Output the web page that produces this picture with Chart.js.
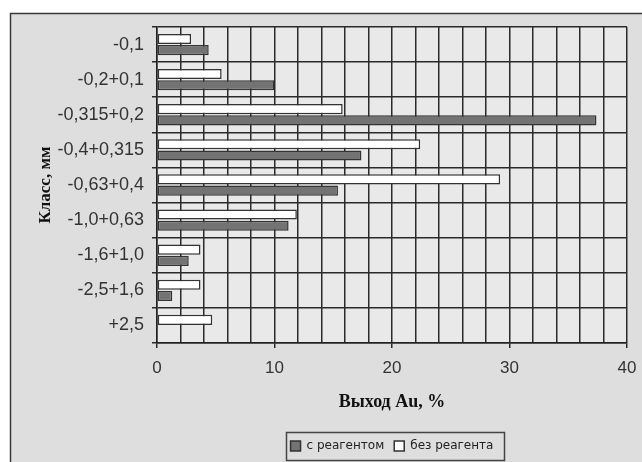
<!DOCTYPE html>
<html>
<head>
  <meta charset="utf-8">
  <title>Выход Au по классам крупности</title>
  <script src="https://cdn.jsdelivr.net/npm/chart.js"></script>
  <style>
    body {
      margin: 0;
      background-color: #fff;
    }
    .chart-box {
      position: absolute;
      left: 0;
      top: 0;
      width: 642px;
      height: 462px;
    }
  </style>
</head>
<body>
  <div class="chart-box">
    <canvas id="auChart" width="642" height="462"></canvas>
  </div>

  <script>
    const classes = ['-0,1', '-0,2+0,1', '-0,315+0,2', '-0,4+0,315', '-0,63+0,4',
                     '-1,0+0,63', '-1,6+1,0', '-2,5+1,6', '+2,5'];
    const withReagent = [4.4, 10.0, 37.4, 17.4, 15.4, 11.2, 2.7, 1.3, 0];
    const withoutReagent = [2.9, 5.5, 15.8, 22.4, 29.2, 11.9, 3.7, 3.7, 4.7];
    const xTicksShown = [0, 10, 20, 30, 40];

    // рамка и фон всей диаграммы + фон области построения
    const backgroundPlugin = {
      id: 'backgrounds',
      beforeDraw(chart) {
        const ctx = chart.ctx;
        const area = chart.chartArea;
        ctx.save();
        ctx.fillStyle = '#ffffff';
        ctx.fillRect(0, 0, chart.width, chart.height);
        ctx.fillStyle = '#dedede';
        ctx.fillRect(10, 13, chart.width - 10, chart.height - 13);
        ctx.strokeStyle = '#3a3a3a';
        ctx.lineWidth = 1.5;
        ctx.beginPath();
        ctx.moveTo(10.5, chart.height);
        ctx.lineTo(10.5, 13.5);
        ctx.lineTo(chart.width, 13.5);
        ctx.stroke();
        ctx.fillStyle = '#e9e9e9';
        ctx.fillRect(area.left, area.top, area.right - area.left, area.bottom - area.top);
        ctx.restore();
      }
    };

    // рамка вокруг легенды
    const legendFramePlugin = {
      id: 'legendFrame',
      afterDraw(chart) {
        const boxes = chart.legend.legendHitBoxes;
        if (!boxes || !boxes.length) return;
        let left = Infinity, right = -Infinity, top = Infinity, bottom = -Infinity;
        boxes.forEach(b => {
          left = Math.min(left, b.left);
          right = Math.max(right, b.left + b.width);
          top = Math.min(top, b.top);
          bottom = Math.max(bottom, b.top + b.height);
        });
        const ctx = chart.ctx;
        ctx.save();
        ctx.strokeStyle = '#444';
        ctx.lineWidth = 1.5;
        ctx.strokeRect(Math.round(left - 5) + 0.5, Math.round(top - 8) + 0.5,
                       Math.round(right - left + 15), Math.round(bottom - top + 16));
        ctx.restore();
      }
    };

    const ctx = document.getElementById('auChart').getContext('2d');

    new Chart(ctx, {
      type: 'bar',
      data: {
        labels: classes,
        datasets: [{
          label: 'без реагента',
          data: withoutReagent,
          backgroundColor: '#ffffff',
          borderColor: '#333',
          borderWidth: 1.5,
          borderSkipped: false
        }, {
          label: 'с реагентом',
          data: withReagent,
          backgroundColor: '#737373',
          borderColor: '#333',
          borderWidth: 1.5,
          borderSkipped: false
        }]
      },
      options: {
        indexAxis: 'y',
        responsive: false,
        animation: false,
        layout: {
          padding: { top: 27, right: 15, left: 0, bottom: 0 }
        },
        datasets: {
          bar: { categoryPercentage: 0.64, barPercentage: 0.9 }
        },
        scales: {
          x: {
            min: 0,
            max: 40,
            afterFit: function(scale) {
              scale.height = 87;
              scale.paddingRight = 0;
            },
            ticks: {
              stepSize: 2,
              autoSkip: false,
              maxRotation: 0,
              padding: 10,
              color: '#333',
              font: { family: 'Liberation Sans', size: 17 },
              callback: function(value) {
                return xTicksShown.includes(value) ? String(value) : ''; // сетка каждые 2, подписи каждые 10
              }
            },
            grid: {
              color: '#2a2a2a',
              lineWidth: 1.5,
              tickLength: 5,
              tickColor: function(c) {
                return c.tick && xTicksShown.includes(c.tick.value) ? '#2a2a2a' : 'rgba(0,0,0,0)';
              }
            },
            border: { color: '#222', width: 1.5 },
            title: {
              display: true,
              text: 'Выход Au, %',
              color: '#111',
              font: { family: 'Liberation Serif', size: 18, weight: 'bold' },
              padding: { top: 0, bottom: 17 }
            }
          },
          y: {
            afterFit: function(scale) { scale.width = 157; },
            ticks: {
              padding: 8,
              color: '#333',
              font: { family: 'Liberation Sans', size: 18 }
            },
            grid: {
              color: '#2a2a2a',
              lineWidth: 1.5,
              tickLength: 5
            },
            border: { color: '#222', width: 1.5 },
            title: {
              display: true,
              text: 'Класс, мм',
              color: '#111',
              font: { family: 'Liberation Serif', size: 17, weight: 'bold' },
              padding: { top: 35, bottom: 0 }
            }
          }
        },
        plugins: {
          legend: {
            position: 'bottom',
            fullSize: false,
            reverse: true,
            labels: {
              boxWidth: 10,
              boxHeight: 10,
              padding: 10,
              color: '#222',
              font: { family: 'DejaVu Sans', size: 12 }
            }
          },
          tooltip: { enabled: false }
        }
      },
      plugins: [backgroundPlugin, legendFramePlugin]
    });
  </script>
</body>
</html>
